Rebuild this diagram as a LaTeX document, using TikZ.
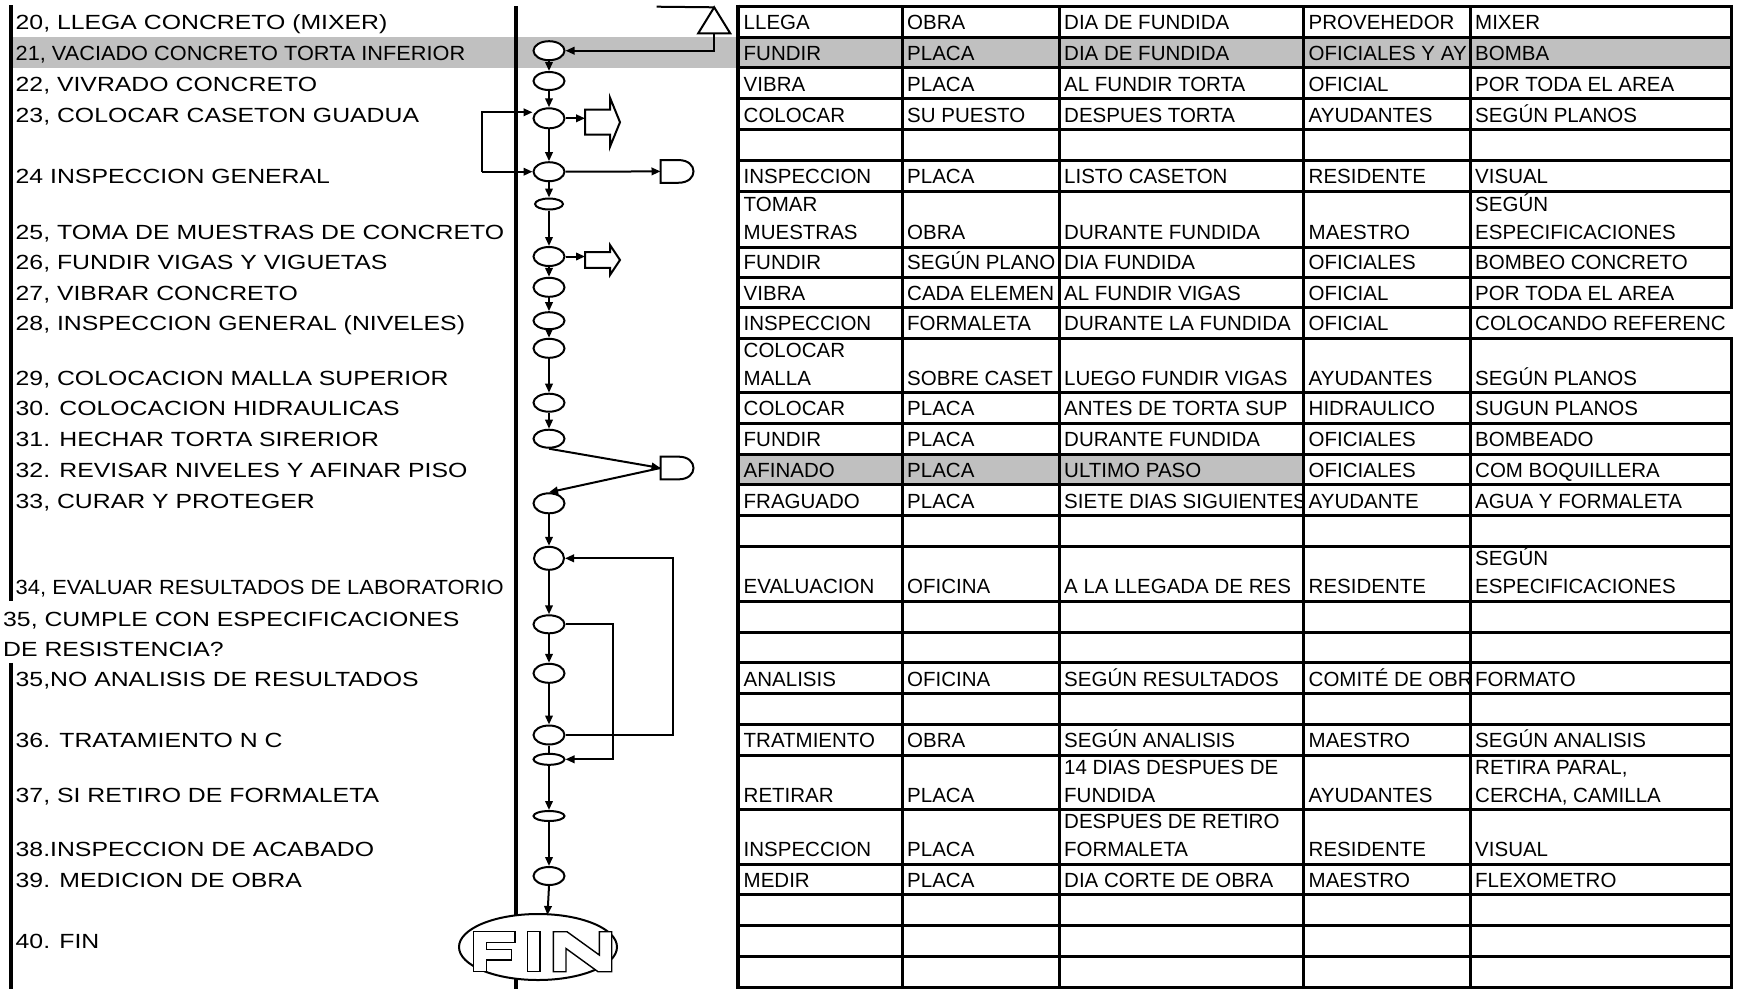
\documentclass[tikz,border=0pt]{standalone}
\usepackage{fontspec}
\setmainfont{Liberation Sans}
\newfontfamily\lblfont[FakeStretch=1.21]{Liberation Sans}
\newfontfamily\lblfontb[FakeStretch=1.06]{Liberation Sans}
\newfontfamily\lblfontc[FakeStretch=1.07]{Liberation Sans}
\usetikzlibrary{arrows.meta,shapes.geometric,calc}
\definecolor{hlgray}{RGB}{192,192,192}
\tikzset{
  lbl/.style={anchor=base west, inner sep=0pt, font=\lblfont\fontsize{20.5}{24}\selectfont},
  lblb/.style={anchor=base west, inner sep=0pt, font=\lblfontb\fontsize{20.5}{24}\selectfont},
  lblc/.style={anchor=base west, inner sep=0pt, font=\lblfontc\fontsize{20.5}{24}\selectfont},
  cellt/.style={anchor=base west, inner sep=0pt, font=\fontsize{20.5}{24}\selectfont},
  ell/.style={ellipse, draw, line width=2pt, fill=white, inner sep=0pt},
  arr/.style={line width=2pt, -{Triangle[length=9pt,width=7.5pt]}},
  conn/.style={line width=2pt},
  shp/.style={line width=2pt, fill=white},
  inv/.style={inner sep=0pt, outer sep=0pt},
  gridline/.style={line width=3pt},
  letter/.style={line width=1.4pt, fill=white, line join=miter},
}
\newcommand\llab[4]{\node[lbl] (#1) at (#2,#3) {#4};}
\newcommand\tcell[4]{\node[cellt] (#1) at (#2,#3) {#4};}
\newcommand\elp[5]{\node[ell, minimum width=#4pt, minimum height=#5pt] (#1) at (#2,#3) {};}
% name, x, y, length, shaft half, head half, head length
\newcommand\blockarr[7]{%
  \node[inv, minimum width=#4pt, minimum height=2*#6pt] (#1) at (#2,#3) {};
  \draw[shp] (#1.west) ++(0,-#5) -- ++(#4-#7,0) -- ++(0,#5-#6) -- (#1.east)
     -- ++(-#7,#6) -- ++(0,#5-#6) -- ++(#7-#4,0) -- cycle;}
\newcommand\dshape[3]{%
  \node[inv, minimum width=33pt, minimum height=22.7pt] (#1) at (#2,#3) {};
  \draw[shp] (#1.north west) -- ($(#1.north west)!0.545!(#1.north east)$)
     .. controls ($(#1.north east)+(5,0)$) and ($(#1.south east)+(5,0)$) ..
     ($(#1.south west)!0.545!(#1.south east)$) -- (#1.south west) -- cycle;}
\begin{document}
\begin{tikzpicture}[x=1pt,y=-1pt]
\useasboundingbox (0,0) rectangle (1745,989);
% highlighted rows
\fill[hlgray] (11,37.1) rectangle (1731,67.9);
\fill[hlgray] (738,454.0) rectangle (1303.5,484.8);
% left labels
\begin{scope}
\clip (0,0) rectangle (513,989);
\llab{l20}{15.5}{29.6}{20, LLEGA CONCRETO (MIXER)}
\node[lblb] (l21) at (15.5,60.4) {21, VACIADO CONCRETO TORTA INFERIOR};
\llab{l22}{15.5}{91.2}{22, VIVRADO CONCRETO}
\llab{l23}{15.5}{122.0}{23, COLOCAR CASETON GUADUA}
\llab{l24}{15.5}{183.6}{24 INSPECCION GENERAL}
\llab{l25}{15.5}{239.5}{25, TOMA DE MUESTRAS DE CONCRETO}
\llab{l26}{15.5}{269.5}{26, FUNDIR VIGAS Y VIGUETAS}
\llab{l27}{15.5}{300.0}{27, VIBRAR CONCRETO}
\llab{l28}{15.5}{330.7}{28, INSPECCION GENERAL (NIVELES)}
\llab{l29}{15.5}{385.2}{29, COLOCACION MALLA SUPERIOR}
\llab{l30}{15.5}{415.8}{30. COLOCACION HIDRAULICAS}
\llab{l31}{15.5}{446.5}{31. HECHAR TORTA SIRERIOR}
\llab{l32}{15.5}{477.3}{32. REVISAR NIVELES Y AFINAR PISO}
\llab{l33}{15.5}{508.3}{33, CURAR Y PROTEGER}
\node[lblc] (l34) at (15.5,594.5) {34, EVALUAR RESULTADOS DE LABORATORIO};
\llab{l35a}{3}{626.0}{35, CUMPLE CON ESPECIFICACIONES}
\llab{l35b}{3}{656.0}{DE RESISTENCIA?}
\llab{l35n}{15.5}{686.2}{35,NO ANALISIS DE RESULTADOS}
\llab{l36}{15.5}{747.7}{36. TRATAMIENTO N C}
\llab{l37}{15.5}{802.1}{37, SI RETIRO DE FORMALETA}
\llab{l38}{15.5}{856.5}{38.INSPECCION DE ACABADO}
\llab{l39}{15.5}{887.3}{39. MEDICION DE OBRA}
\llab{l40}{15.5}{948.9}{40. FIN}
\end{scope}
% table column 1
\begin{scope}
\clip (740.5,0) rectangle (900.5,989);
\tcell{c1r1}{743.5}{29.6}{LLEGA}
\tcell{c1r2}{743.5}{60.4}{FUNDIR}
\tcell{c1r3}{743.5}{91.2}{VIBRA}
\tcell{c1r4}{743.5}{122.0}{COLOCAR}
\tcell{c1r6}{743.5}{183.6}{INSPECCION}
\tcell{c1r7a}{743.5}{211.5}{TOMAR}
\tcell{c1r7b}{743.5}{239.5}{MUESTRAS}
\tcell{c1r8}{743.5}{269.5}{FUNDIR}
\tcell{c1r9}{743.5}{300.0}{VIBRA}
\tcell{c1r10}{743.5}{330.7}{INSPECCION}
\tcell{c1r11a}{743.5}{357.2}{COLOCAR}
\tcell{c1r11b}{743.5}{385.2}{MALLA}
\tcell{c1r12}{743.5}{415.8}{COLOCAR}
\tcell{c1r13}{743.5}{446.5}{FUNDIR}
\tcell{c1r14}{743.5}{477.3}{AFINADO}
\tcell{c1r15}{743.5}{508.3}{FRAGUADO}
\tcell{c1r17}{743.5}{593.8}{EVALUACION}
\tcell{c1r20}{743.5}{686.2}{ANALISIS}
\tcell{c1r22}{743.5}{747.7}{TRATMIENTO}
\tcell{c1r23}{743.5}{802.1}{RETIRAR}
\tcell{c1r24}{743.5}{856.5}{INSPECCION}
\tcell{c1r25}{743.5}{887.3}{MEDIR}
\end{scope}
% column 2
\begin{scope}
\clip (903.5,0) rectangle (1057.5,989);
\tcell{c2r1}{907}{29.6}{OBRA}
\tcell{c2r2}{907}{60.4}{PLACA}
\tcell{c2r3}{907}{91.2}{PLACA}
\tcell{c2r4}{907}{122.0}{SU PUESTO}
\tcell{c2r6}{907}{183.6}{PLACA}
\tcell{c2r7}{907}{239.5}{OBRA}
\tcell{c2r8}{907}{269.5}{SEGÚN PLANO}
\tcell{c2r9}{907}{300.0}{CADA ELEMEN}
\tcell{c2r10}{907}{330.7}{FORMALETA}
\tcell{c2r11}{907}{385.2}{SOBRE CASET}
\tcell{c2r12}{907}{415.8}{PLACA}
\tcell{c2r13}{907}{446.5}{PLACA}
\tcell{c2r14}{907}{477.3}{PLACA}
\tcell{c2r15}{907}{508.3}{PLACA}
\tcell{c2r17}{907}{593.8}{OFICINA}
\tcell{c2r20}{907}{686.2}{OFICINA}
\tcell{c2r22}{907}{747.7}{OBRA}
\tcell{c2r23}{907}{802.1}{PLACA}
\tcell{c2r24}{907}{856.5}{PLACA}
\tcell{c2r25}{907}{887.3}{PLACA}
\end{scope}
% column 3
\begin{scope}
\clip (1060.5,0) rectangle (1302,989);
\tcell{c3r1}{1064}{29.6}{DIA DE FUNDIDA}
\tcell{c3r2}{1064}{60.4}{DIA DE FUNDIDA}
\tcell{c3r3}{1064}{91.2}{AL FUNDIR TORTA}
\tcell{c3r4}{1064}{122.0}{DESPUES TORTA}
\tcell{c3r6}{1064}{183.6}{LISTO CASETON}
\tcell{c3r7}{1064}{239.5}{DURANTE FUNDIDA}
\tcell{c3r8}{1064}{269.5}{DIA FUNDIDA}
\tcell{c3r9}{1064}{300.0}{AL FUNDIR VIGAS}
\tcell{c3r10}{1064}{330.7}{DURANTE LA FUNDIDA}
\tcell{c3r11}{1064}{385.2}{LUEGO FUNDIR VIGAS}
\tcell{c3r12}{1064}{415.8}{ANTES DE TORTA SUP}
\tcell{c3r13}{1064}{446.5}{DURANTE FUNDIDA}
\tcell{c3r14}{1064}{477.3}{ULTIMO PASO}
\tcell{c3r15}{1064}{508.3}{SIETE DIAS SIGUIENTES}
\tcell{c3r17}{1064}{593.8}{A LA LLEGADA DE RES}
\tcell{c3r20}{1064}{686.2}{SEGÚN RESULTADOS}
\tcell{c3r22}{1064}{747.7}{SEGÚN ANALISIS}
\tcell{c3r23a}{1064}{774.1}{14 DIAS DESPUES DE}
\tcell{c3r23b}{1064}{802.1}{FUNDIDA}
\tcell{c3r24a}{1064}{828.5}{DESPUES DE RETIRO}
\tcell{c3r24b}{1064}{856.5}{FORMALETA}
\tcell{c3r25}{1064}{887.3}{DIA CORTE DE OBRA}
\end{scope}
% column 4
\begin{scope}
\clip (1305,0) rectangle (1468.5,989);
\tcell{c4r1}{1308.5}{29.6}{PROVEHEDOR}
\tcell{c4r2}{1308.5}{60.4}{OFICIALES Y AY}
\tcell{c4r3}{1308.5}{91.2}{OFICIAL}
\tcell{c4r4}{1308.5}{122.0}{AYUDANTES}
\tcell{c4r6}{1308.5}{183.6}{RESIDENTE}
\tcell{c4r7}{1308.5}{239.5}{MAESTRO}
\tcell{c4r8}{1308.5}{269.5}{OFICIALES}
\tcell{c4r9}{1308.5}{300.0}{OFICIAL}
\tcell{c4r10}{1308.5}{330.7}{OFICIAL}
\tcell{c4r11}{1308.5}{385.2}{AYUDANTES}
\tcell{c4r12}{1308.5}{415.8}{HIDRAULICO}
\tcell{c4r13}{1308.5}{446.5}{OFICIALES}
\tcell{c4r14}{1308.5}{477.3}{OFICIALES}
\tcell{c4r15}{1308.5}{508.3}{AYUDANTE}
\tcell{c4r17}{1308.5}{593.8}{RESIDENTE}
\tcell{c4r20}{1308.5}{686.2}{COMITÉ DE OBR}
\tcell{c4r22}{1308.5}{747.7}{MAESTRO}
\tcell{c4r23}{1308.5}{802.1}{AYUDANTES}
\tcell{c4r24}{1308.5}{856.5}{RESIDENTE}
\tcell{c4r25}{1308.5}{887.3}{MAESTRO}
\end{scope}
% column 5
\begin{scope}
\clip (1471.5,0) rectangle (1729.5,989);
\tcell{c5r1}{1475}{29.6}{MIXER}
\tcell{c5r2}{1475}{60.4}{BOMBA}
\tcell{c5r3}{1475}{91.2}{POR TODA EL AREA}
\tcell{c5r4}{1475}{122.0}{SEGÚN PLANOS}
\tcell{c5r6}{1475}{183.6}{VISUAL}
\tcell{c5r7a}{1475}{211.5}{SEGÚN}
\tcell{c5r7b}{1475}{239.5}{ESPECIFICACIONES}
\tcell{c5r8}{1475}{269.5}{BOMBEO CONCRETO}
\tcell{c5r9}{1475}{300.0}{POR TODA EL AREA}
\tcell{c5r10}{1475}{330.7}{COLOCANDO REFERENC}
\tcell{c5r11}{1475}{385.2}{SEGÚN PLANOS}
\tcell{c5r12}{1475}{415.8}{SUGUN PLANOS}
\tcell{c5r13}{1475}{446.5}{BOMBEADO}
\tcell{c5r14}{1475}{477.3}{COM BOQUILLERA}
\tcell{c5r15}{1475}{508.3}{AGUA Y FORMALETA}
\tcell{c5r17a}{1475}{565.8}{SEGÚN}
\tcell{c5r17b}{1475}{593.8}{ESPECIFICACIONES}
\tcell{c5r20}{1475}{686.2}{FORMATO}
\tcell{c5r22}{1475}{747.7}{SEGÚN ANALISIS}
\tcell{c5r23a}{1475}{774.1}{RETIRA PARAL,}
\tcell{c5r23b}{1475}{802.1}{CERCHA, CAMILLA}
\tcell{c5r24}{1475}{856.5}{VISUAL}
\tcell{c5r25}{1475}{887.3}{FLEXOMETRO}
\end{scope}
% table grid
\foreach \yy in {6.3,37.1,67.9,98.7,129.5,160.3,191.1,247.0,277.0,307.5,338.2,392.7,423.3,454.0,484.8,515.8,546.8,601.3,632.0,662.8,693.7,724.5,755.2,809.6,864.0,894.8,925.6,956.4,987.2}
  \draw[gridline] (737,\yy) -- (1732.5,\yy);
\foreach \xx in {902,1059,1303.5,1470}
  \draw[gridline] (\xx,6.3) -- (\xx,987.2);
\draw[gridline] (1731,4.8) -- (1731,307.5);
\draw[gridline] (1731,338.2) -- (1731,988.7);
\draw[line width=4.5pt] (738,4.5) -- (738,989);
% left border and separator
\draw[line width=4pt] (11,5) -- (11,601.3);
\draw[line width=4pt] (11,662.8) -- (11,989);
\draw[line width=4.5pt] (516,6) -- (516,989);
% flow symbols
\elp{e21}{549}{50.7}{31}{19}
\elp{e22}{549}{81}{31}{18}
\elp{e23}{549}{118.3}{31}{20}
\elp{e24}{549}{171.7}{31}{19}
\elp{e25}{549}{204}{28}{11}
\elp{e26}{549}{256.5}{31}{19}
\elp{e27}{549}{287.3}{31}{19}
\elp{e28}{549}{320.7}{31}{17}
\elp{e29}{549}{348.3}{31}{19}
\elp{e30}{549}{402.7}{31}{18}
\elp{e31}{549}{438.7}{31}{18}
\elp{e33}{549}{503.3}{31}{20}
\elp{e34}{549}{558.3}{30}{23}
\elp{e35}{549}{624.3}{31}{18}
\elp{e35b}{549}{673.3}{31}{19}
\elp{e36}{549}{735}{31}{19}
\elp{e37}{549}{759.3}{31}{11}
\elp{e38}{549}{816}{31}{10}
\elp{e39}{549}{876}{31}{18}
\node[ell, minimum width=158pt, minimum height=66pt] (fin) at (538,947) {};
% FIN lettering
\draw[letter] (473.3,931.7) -- (515,931.7) -- (515,942.5) -- (486.7,942.5) -- (486.7,949.5)
  -- (511.7,949.5) -- (511.7,960) -- (486.7,960) -- (486.7,971.7) -- (473.3,971.7) -- cycle;
\draw[letter] (527.3,931.7) rectangle (540,971.7);
\draw[letter] (553.3,971.7) -- (553.3,931.7) -- (567,931.7) -- (599.3,955) -- (599.3,931.7)
  -- (611.7,931.7) -- (611.7,971.7) -- (598,971.7) -- (566,948.5) -- (566,971.7) -- cycle;
% other symbols
\node[inv, minimum width=32pt, minimum height=26pt] (t20) at (714.2,20.3) {};
\draw[shp] (t20.north) -- (t20.south east) -- (t20.south west) -- cycle;
\blockarr{m23}{602.5}{122.2}{35}{12.5}{24.5}{10}
\blockarr{m26}{602.5}{260}{35}{7.8}{15}{10}
\dshape{d24}{677}{171.4}
\dshape{d32}{677}{468}
% free ends
\coordinate (topin) at (656.7,6.7);
\coordinate (lpA) at (481.7,112.3);
\coordinate (lpB) at (481.7,171.7);
\coordinate (rA) at (673.3,735);
\coordinate (rB) at (612.7,759.3);
\coordinate (fintop) at (547.5,915);
% connectors
\draw[conn] (topin) -- (t20.north);
\draw[arr] (t20.south) |- (e21.east);
\draw[arr] (e21) -- (e22);
\draw[arr] (e22) -- (e23);
\draw[arr] (e23.east) -- (e23.east -| m23.west);
\draw[arr] (e23) -- (e24);
\draw[arr] (lpB) -- (lpA) -- (lpA -| e23.west);
\draw[arr] (lpB) -- (e24.west);
\draw[arr] (e24.east) -- (d24.west);
\draw[arr] (e24) -- (e25);
\draw[arr] (e25) -- (e26);
\draw[arr] (e26.east) -- (e26.east -| m26.west);
\draw[arr] (e26) -- (e27);
\draw[arr] (e27) -- (e28);
\draw[arr] (e28) -- (e29);
\draw[arr] (e29) -- (e30);
\draw[arr] (e30) -- (e31);
\draw[arr] (e31.south) -- (d32.west);
\draw[arr] (d32.west) -- (e33.north);
\draw[arr] (e33) -- (e34);
\draw[arr] (e34) -- (e35);
\draw[arr] (e35) -- (e35b);
\draw[arr] (e35b) -- (e36);
\draw[conn] (e36) -- (e37);
\draw[arr] (e37) -- (e38);
\draw[arr] (e38) -- (e39);
\draw[arr] (e39.south) -- (fintop);
\draw[arr] (e36.east) -- (rA) |- (e34.east);
\draw[arr] (e35.east) -| (rB) -- (e37.east);
\end{tikzpicture}
\end{document}
